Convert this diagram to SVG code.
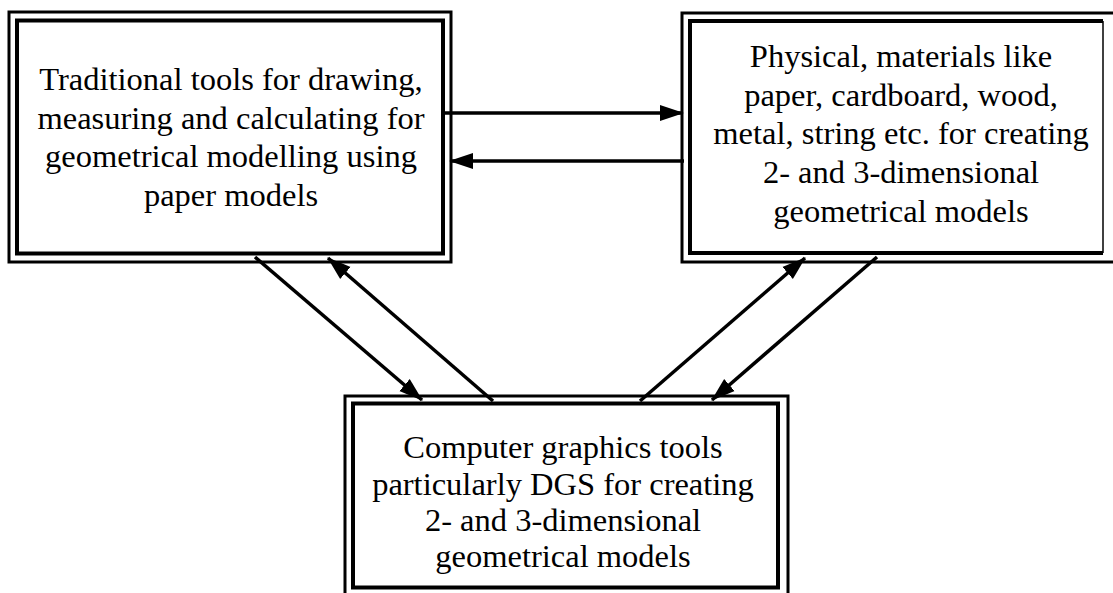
<svg xmlns="http://www.w3.org/2000/svg" width="1113" height="593" viewBox="0 0 1113 593">
<style>
.outer{fill:none;stroke:#000;stroke-width:3}
.inner{fill:none;stroke:#000;stroke-width:4}
.thin{fill:none;stroke:#000;stroke-width:1.5}
.lbl{font-family:"Liberation Serif","Times New Roman",serif;font-size:32.5px;fill:#000;text-anchor:middle}
.conn{stroke:#000;stroke-width:3.5;fill:none;marker-end:url(#ah)}
</style>
<defs>
<marker id="ah" markerUnits="userSpaceOnUse" markerWidth="24" markerHeight="18" refX="23" refY="9" orient="auto">
<path d="M0,1 L24,9 L0,17 z" fill="#000"/>
</marker>
</defs>
<rect x="0" y="0" width="1113" height="593" fill="#fff"/>
<g id="node-traditional">
<rect class="outer" x="9" y="12" width="442" height="250"/>
<rect class="inner" x="17" y="20.5" width="426" height="233"/>
<text class="lbl" x="231" y="90">Traditional tools for drawing,</text>
<text class="lbl" x="231" y="128.5">measuring and calculating for</text>
<text class="lbl" x="231" y="167">geometrical modelling using</text>
<text class="lbl" x="231" y="205.5">paper models</text>
</g>
<g id="node-physical">
<rect class="outer" x="682" y="13" width="440" height="249"/>
<path class="inner" d="M1103,21 H690 V253 H1103"/>
<line class="thin" x1="1103" y1="21" x2="1103" y2="253"/>
<text class="lbl" x="901" y="67">Physical, materials like</text>
<text class="lbl" x="901" y="105.5">paper, cardboard, wood,</text>
<text class="lbl" x="901" y="144">metal, string etc. for creating</text>
<text class="lbl" x="901" y="183">2- and 3-dimensional</text>
<text class="lbl" x="901" y="222">geometrical models</text>
</g>
<g id="node-computer">
<rect class="outer" x="345" y="396" width="443" height="205"/>
<rect class="inner" x="353" y="403.5" width="425" height="184"/>
<text class="lbl" x="563" y="458">Computer graphics tools</text>
<text class="lbl" x="563" y="495">particularly DGS for creating</text>
<text class="lbl" x="563" y="531">2- and 3-dimensional</text>
<text class="lbl" x="563" y="567">geometrical models</text>
</g>
<g id="connectors">
<line class="conn" x1="444" y1="113" x2="683" y2="113"/>
<line class="conn" x1="684" y1="161" x2="450" y2="161"/>
<line class="conn" x1="255" y1="257" x2="422" y2="400"/>
<line class="conn" x1="493" y1="401" x2="328" y2="258"/>
<line class="conn" x1="640" y1="401" x2="805" y2="258"/>
<line class="conn" x1="877" y1="257" x2="712" y2="400"/>
</g>
</svg>
